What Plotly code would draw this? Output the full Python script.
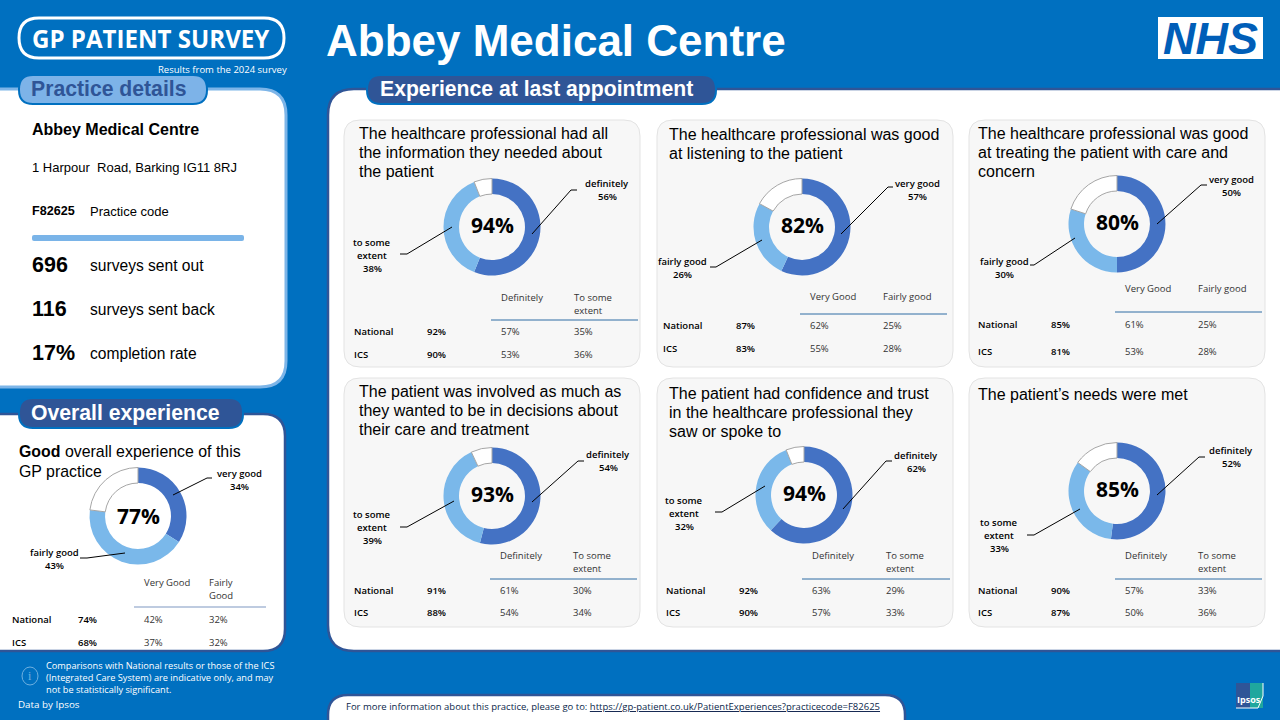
"""GP Patient Survey practice slide: six question donuts plus an overall panel."""
import plotly.graph_objects as go

W, H = 1280, 720
BG = "#0070C0"
NAVY = "#2F5597"
MID = "#4472C4"
LIGHT = "#7AB8EA"
SANS = "Liberation Sans"
UI = "Open Sans"

# --- data ------------------------------------------------------------------
practice_name = "Abbey Medical Centre"
address = "1 Harpour  Road, Barking IG11 8RJ"
practice_code = "F82625"
survey_counts = ["696", "116", "17%"]
survey_labels = ["surveys sent out", "surveys sent back", "completion rate"]

titles = [
    ["The healthcare professional had all", "the information they needed about", "the patient"],
    ["The healthcare professional was good", "at listening to the patient"],
    ["The healthcare professional was good", "at treating the patient with care and", "concern"],
    ["The patient was involved as much as", "they wanted to be in decisions about", "their care and treatment"],
    ["The patient had confidence and trust", "in the healthcare professional they", "saw or spoke to"],
    ["The patient\u2019s needs were met"],
]
totals = ["94%", "82%", "80%", "93%", "94%", "85%"]
top_names = ["definitely", "very good", "very good", "definitely", "definitely", "definitely"]
top_values = [56, 57, 50, 54, 62, 52]
second_names = [["to some", "extent"], ["fairly good"], ["fairly good"],
                ["to some", "extent"], ["to some", "extent"], ["to some", "extent"]]
second_values = [38, 26, 30, 39, 32, 33]
rest_values = [6, 17, 20, 7, 6, 15]
col_heads = [
    (["Definitely"], ["To some", "extent"]),
    (["Very Good"], ["Fairly good"]),
    (["Very Good"], ["Fairly good"]),
    (["Definitely"], ["To some", "extent"]),
    (["Definitely"], ["To some", "extent"]),
    (["Definitely"], ["To some", "extent"]),
]
national_rows = [("92%", "57%", "35%"), ("87%", "62%", "25%"), ("85%", "61%", "25%"),
                 ("91%", "61%", "30%"), ("92%", "63%", "29%"), ("90%", "57%", "33%")]
ics_rows = [("90%", "53%", "36%"), ("83%", "55%", "28%"), ("81%", "53%", "28%"),
            ("88%", "54%", "34%"), ("90%", "57%", "33%"), ("87%", "50%", "36%")]

overall_total = "77%"
overall_values = [34, 43, 23]
overall_national = ("74%", "42%", "32%")
overall_ics = ("68%", "37%", "32%")

# --- layout in slide pixels (y down) ---------------------------------------
card_boxes = [(344, 120, 640, 367), (657, 120, 953, 367), (969, 120, 1265, 367),
              (344, 378, 640, 627), (657, 378, 953, 627), (969, 378, 1265, 627)]
title_pos = [(359, 133), (669, 134), (978, 133), (359, 391), (669, 393), (978, 394)]
donut_pos = [(492, 227), (802, 227), (1117, 224), (492, 496), (804, 495), (1117, 491)]
top_leader = [[(532, 234), (571, 190), (577, 190)], [(841, 234), (888, 187), (893, 187)],
              [(1157, 224), (1201, 185), (1207, 185)], [(532, 502), (578, 461), (584, 461)],
              [(843, 509), (886, 461), (892, 461)], [(1157, 495), (1199, 457), (1205, 457)]]
second_leader = [[(452, 227), (407, 254), (400, 254)], [(762, 240), (716, 267), (710, 267)],
                 [(1075, 238), (1034, 265), (1030, 265)], [(454, 501), (407, 527), (400, 527)],
                 [(765, 486), (722, 512), (715, 512)], [(1080, 509), (1034, 535), (1027, 535)]]
top_label = [(607, 190), (917, 189.5), (1231, 186), (608, 460.5), (916, 461.5), (1231, 457)]
second_label = [(372, 255), (682, 268), (1004, 268), (372, 527), (684, 513), (999, 535)]
table_x = [(354, 427, 501, 574), (663, 736, 810, 883), (978, 1051, 1125, 1198),
           (354, 427, 500, 573), (666, 739, 812, 886), (978, 1051, 1125, 1198)]
table_rows = [(331, 354), (325, 348), (324, 351), (590, 612), (590, 612), (590, 612)]
head_y = [297, 296, 288, 555, 555, 555]
rule_pos = [(491, 638, 320), (800, 947, 314), (1115, 1262, 312),
            (490, 637, 579), (802, 950, 579), (1115, 1262, 579)]

shapes, notes = [], []


def text(x, y, s, size=10, color="black", font=UI, anchor="left", bold=False, italic=False, weight=None):
    notes.append(dict(
        x=x, y=y, xref="x", yref="y", text=s, showarrow=False, xanchor=anchor, yanchor="middle",
        align=anchor if anchor != "middle" else "center", borderpad=0, borderwidth=0,
        font=dict(size=size, color=color, family=font,
                  weight=weight or ("bold" if bold else "normal"),
                  style="italic" if italic else "normal"),
    ))


def box(x0, y0, x1, y1, r, fill, line=None, width=0, layer="below"):
    # plain rounded rectangle as an svg path
    path = (f"M{x0+r},{y0} L{x1-r},{y0} Q{x1},{y0} {x1},{y0+r} L{x1},{y1-r} Q{x1},{y1} {x1-r},{y1} "
            f"L{x0+r},{y1} Q{x0},{y1} {x0},{y1-r} L{x0},{y0+r} Q{x0},{y0} {x0+r},{y0} Z")
    shapes.append(dict(type="path", path=path, xref="x", yref="y", fillcolor=fill, layer=layer,
                       line=dict(color=line or fill, width=width)))


def polyline(points, color="black", width=1):
    path = "M" + " L".join(f"{x},{y}" for x, y in points)
    shapes.append(dict(type="path", path=path, xref="x", yref="y", layer="above",
                       line=dict(color=color, width=width)))


fig = go.Figure()


def donut(cx, cy, r, values):
    fig.add_trace(go.Pie(
        values=values, sort=False, direction="clockwise", rotation=0, hole=0.68,
        domain=dict(x=[(cx - r) / W, (cx + r) / W], y=[1 - (cy + r) / H, 1 - (cy - r) / H]),
        marker=dict(colors=[MID, LIGHT, "white"],
                    line=dict(color=["#4472C4", "#7AB8EA", "#A6A6A6"], width=[0, 0, 1])),
        textinfo="none", hoverinfo="skip", showlegend=False,
    ))


# --- background panels -----------------------------------------------------
box(-60, 89, 286, 387, 26, "white", "#7DB5E8", 3)
box(-60, 414, 285, 651, 22, "white", NAVY, 2.5)
box(328, 89, 1340, 651, 26, "white", NAVY, 2.5)
box(328, 695, 905, 760, 20, "white", NAVY, 2.5)
box(19, 75, 207, 104, 14, "#7DB3E8", BG, 2)
box(19, 398, 243, 428, 14, NAVY, BG, 2)
box(367, 75, 716, 104, 14, NAVY, BG, 2)

# --- header ----------------------------------------------------------------
box(19, 18, 284, 58, 20, BG, "white", 3)
text(151, 38, "GP PATIENT SURVEY", 24.1, "white", UI, "center", bold=True)
text(287, 69, "Results from the 2024 survey", 9.5, "white", UI, "right")
text(326, 40, practice_name, 44, "white", SANS, bold=True)
box(1158, 17, 1263, 59, 0, "white")
text(1210, 38, "NHS", 45, "#005EB8", SANS, "center", bold=True, italic=True)
text(31, 88.5, "Practice details", 21.2, NAVY, SANS, bold=True)
text(31, 412.5, "Overall experience", 21.2, "white", SANS, bold=True)
text(380, 88.5, "Experience at last appointment", 21.2, "white", SANS, bold=True)

# --- practice details ------------------------------------------------------
text(32, 129, practice_name, 16, "black", SANS, bold=True)
text(32, 167, address, 13, "black", SANS)
text(32, 211, practice_code, 12.6, "black", SANS, bold=True)
text(90, 211, "Practice code", 13, "black", SANS)
box(32, 235, 244, 241, 2, "#7AB4E8")
for y, count, label in zip((265, 309, 353), survey_counts, survey_labels):
    text(32, y - 0.5, count, 21.5, "black", SANS, bold=True)
    text(90, y + 0.5, label, 15.6, "black", SANS)

# --- question cards --------------------------------------------------------
for i, card in enumerate(card_boxes):
    box(*card, 16, "#F7F7F7", "#E3E3E3", 1)
    for n, line in enumerate(titles[i]):
        text(title_pos[i][0], title_pos[i][1] + n * 19, line, 16, "black", SANS)

    cx, cy = donut_pos[i]
    donut(cx, cy, 48.5, [top_values[i], second_values[i], rest_values[i]])
    text(cx, cy - 2, totals[i], 21, "black", UI, "center", bold=True)

    polyline(top_leader[i])
    polyline(second_leader[i])
    lx, ly = top_label[i]
    text(lx, ly - 6.5, top_names[i], 9.5, "black", UI, "center", weight=600)
    text(lx, ly + 6.5, f"{top_values[i]}%", 9.5, "black", UI, "center", weight=600)
    lines = second_names[i] + [f"{second_values[i]}%"]
    lx, ly = second_label[i]
    for n, line in enumerate(lines):
        text(lx, ly + (n - (len(lines) - 1) / 2) * 13, line, 9.5, "black", UI, "center", weight=600)

    x0, x1, x2, x3 = table_x[i]
    for x, head in zip((x2, x3), col_heads[i]):
        for n, line in enumerate(head):
            text(x, head_y[i] + n * 13, line, 9.5, "#333333", UI)
    polyline([(rule_pos[i][0], rule_pos[i][2]), (rule_pos[i][1], rule_pos[i][2])], "#2E6DA4", 1)
    for y, name, row in zip(table_rows[i], ("National", "ICS"), (national_rows[i], ics_rows[i])):
        text(x0, y, name, 9.5, "black", UI, weight=600)
        text(x1, y, row[0], 9.5, "black", UI, weight=600)
        text(x2, y, row[1], 9.5, "#333333", UI)
        text(x3, y, row[2], 9.5, "#333333", UI)

# --- overall panel ---------------------------------------------------------
text(19, 451, "<b>Good</b> overall experience of this", 15.9, "black", SANS)
text(19, 471, "GP practice", 15.9, "black", SANS)
donut(138, 516, 48.5, overall_values)
text(138, 516, overall_total, 21, "black", UI, "center", bold=True)
polyline([(173, 495), (207, 478), (212, 478)])
polyline([(125, 553), (87, 558), (80, 558)])
text(239, 473, "very good", 9.5, "black", UI, "center", weight=600)
text(239, 486, f"{overall_values[0]}%", 9.5, "black", UI, "center", weight=600)
text(54, 552, "fairly good", 9.5, "black", UI, "center", weight=600)
text(54, 565, f"{overall_values[1]}%", 9.5, "black", UI, "center", weight=600)
text(144, 582, "Very Good", 9.5, "#333333", UI)
text(209, 582, "Fairly", 9.5, "#333333", UI)
text(209, 595, "Good", 9.5, "#333333", UI)
polyline([(134, 607), (266, 607)], "#A9BAD6", 1.5)
for y, name, row in zip((619, 642), ("National", "ICS"), (overall_national, overall_ics)):
    text(12, y, name, 9.5, "black", UI, weight=600)
    text(78, y, row[0], 9.5, "black", UI, weight=600)
    text(144, y, row[1], 9.5, "#333333", UI)
    text(209, y, row[2], 9.5, "#333333", UI)

# --- footer ----------------------------------------------------------------
shapes.append(dict(type="circle", xref="x", yref="y", x0=22, y0=667, x1=38, y1=685, layer="below",
                   fillcolor="rgba(0,0,0,0)", line=dict(color="#6FB0E0", width=1)))
text(30, 676, "i", 12, "#6FB0E0", "Liberation Serif", "center")
text(46, 677, "Comparisons with National results or those of the ICS<br>"
     "(Integrated Care System) are indicative only, and may<br>"
     "not be statistically significant.", 9.2, "white", UI)
text(18, 704, "Data by Ipsos", 9.8, "white", UI)
text(346, 706, "For more information about this practice, please go to: "
     "<u>https://gp-patient.co.uk/PatientExperiences?practicecode=F82625</u>", 9.5, "#0B1F4B", UI)
box(1236, 683, 1250, 708, 0, NAVY)
box(1250, 683, 1263, 708, 0, "#1FA79E")
polyline([(1236, 708), (1258, 708), (1263, 696), (1263, 683)], "white", 1)
text(1249, 699, "Ipsos", 9, "white", UI, "center", bold=True)

fig.update_layout(
    width=W, height=H, margin=dict(l=0, r=0, t=0, b=0),
    paper_bgcolor=BG, plot_bgcolor=BG,
    xaxis=dict(range=[0, W], visible=False, fixedrange=True),
    yaxis=dict(range=[H, 0], visible=False, fixedrange=True),
    shapes=shapes, annotations=notes, showlegend=False,
)

fig.write_html("out.html", config=dict(displayModeBar=False),
               post_script="document.body.style.margin='0';document.body.style.background='#0070C0';")
